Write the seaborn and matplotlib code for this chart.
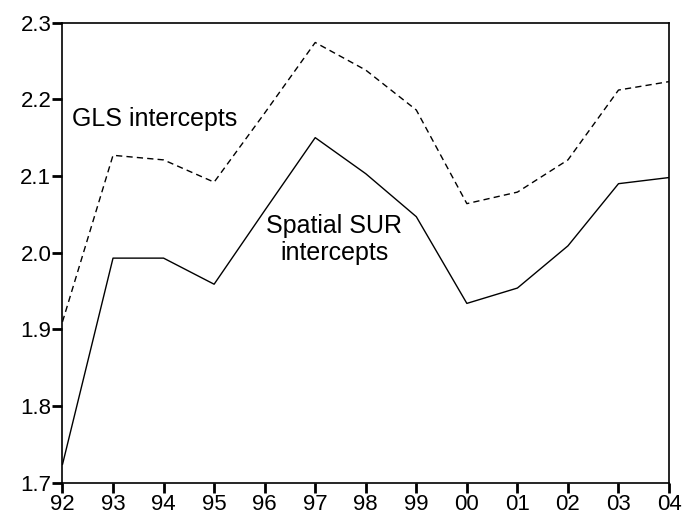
import numpy as np
import pandas as pd
import matplotlib
matplotlib.use("Agg")
import matplotlib.pyplot as plt
import seaborn as sns

# data
years = ["92", "93", "94", "95", "96", "97", "98", "99", "00", "01", "02", "03", "04"]
gls = [1.910, 2.127, 2.121, 2.092, 2.182, 2.274, 2.238, 2.186, 2.064, 2.079, 2.121, 2.212, 2.223]
sur = [1.724, 1.993, 1.993, 1.959, 2.055, 2.150, 2.103, 2.047, 1.934, 1.954, 2.009, 2.090, 2.098]

sns.set_style("ticks")
plt.rcParams['font.family'] = ['Liberation Sans', 'DejaVu Sans']
plt.rcParams['text.color'] = 'black'

df = pd.DataFrame({"t": np.arange(len(years)), "gls": gls, "sur": sur})

fig = plt.figure(figsize=(6.82, 5.19), dpi=100)
ax = fig.add_axes([0.0916, 0.0694, 0.981 - 0.0916, 0.9566 - 0.0694])

sns.lineplot(data=df, x="t", y="gls", color="black", linewidth=1.0, ax=ax)
sns.lineplot(data=df, x="t", y="sur", color="black", linewidth=1.0, ax=ax)
ax.lines[0].set_dashes([4.5, 3])

ax.set_xlim(0, len(years) - 1)
ax.set_ylim(1.7, 2.3)
ax.set_xticks(np.arange(len(years)))
ax.set_xticklabels(years)
ax.set_yticks([1.7, 1.8, 1.9, 2.0, 2.1, 2.2, 2.3])
ax.set_yticklabels(["1.7", "1.8", "1.9", "2.0", "2.1", "2.2", "2.3"])
ax.set_xlabel("")
ax.set_ylabel("")

for s in ax.spines.values():
    s.set_visible(True)
    s.set_color("black")
    s.set_linewidth(1.2)

# ticks out, bottom and left only
ax.tick_params(axis="both", direction="out", length=7, width=2.0, color="black",
               labelcolor="black", labelsize=16, pad=1)

ax.text(0.19, 2.165, "GLS intercepts", fontsize=18, ha="left", va="baseline")
ax.text(5.376, 2.0255, "Spatial SUR", fontsize=18, ha="center", va="baseline")
ax.text(5.376, 1.990, "intercepts", fontsize=18, ha="center", va="baseline")

plt.savefig("out.png", dpi=100)
